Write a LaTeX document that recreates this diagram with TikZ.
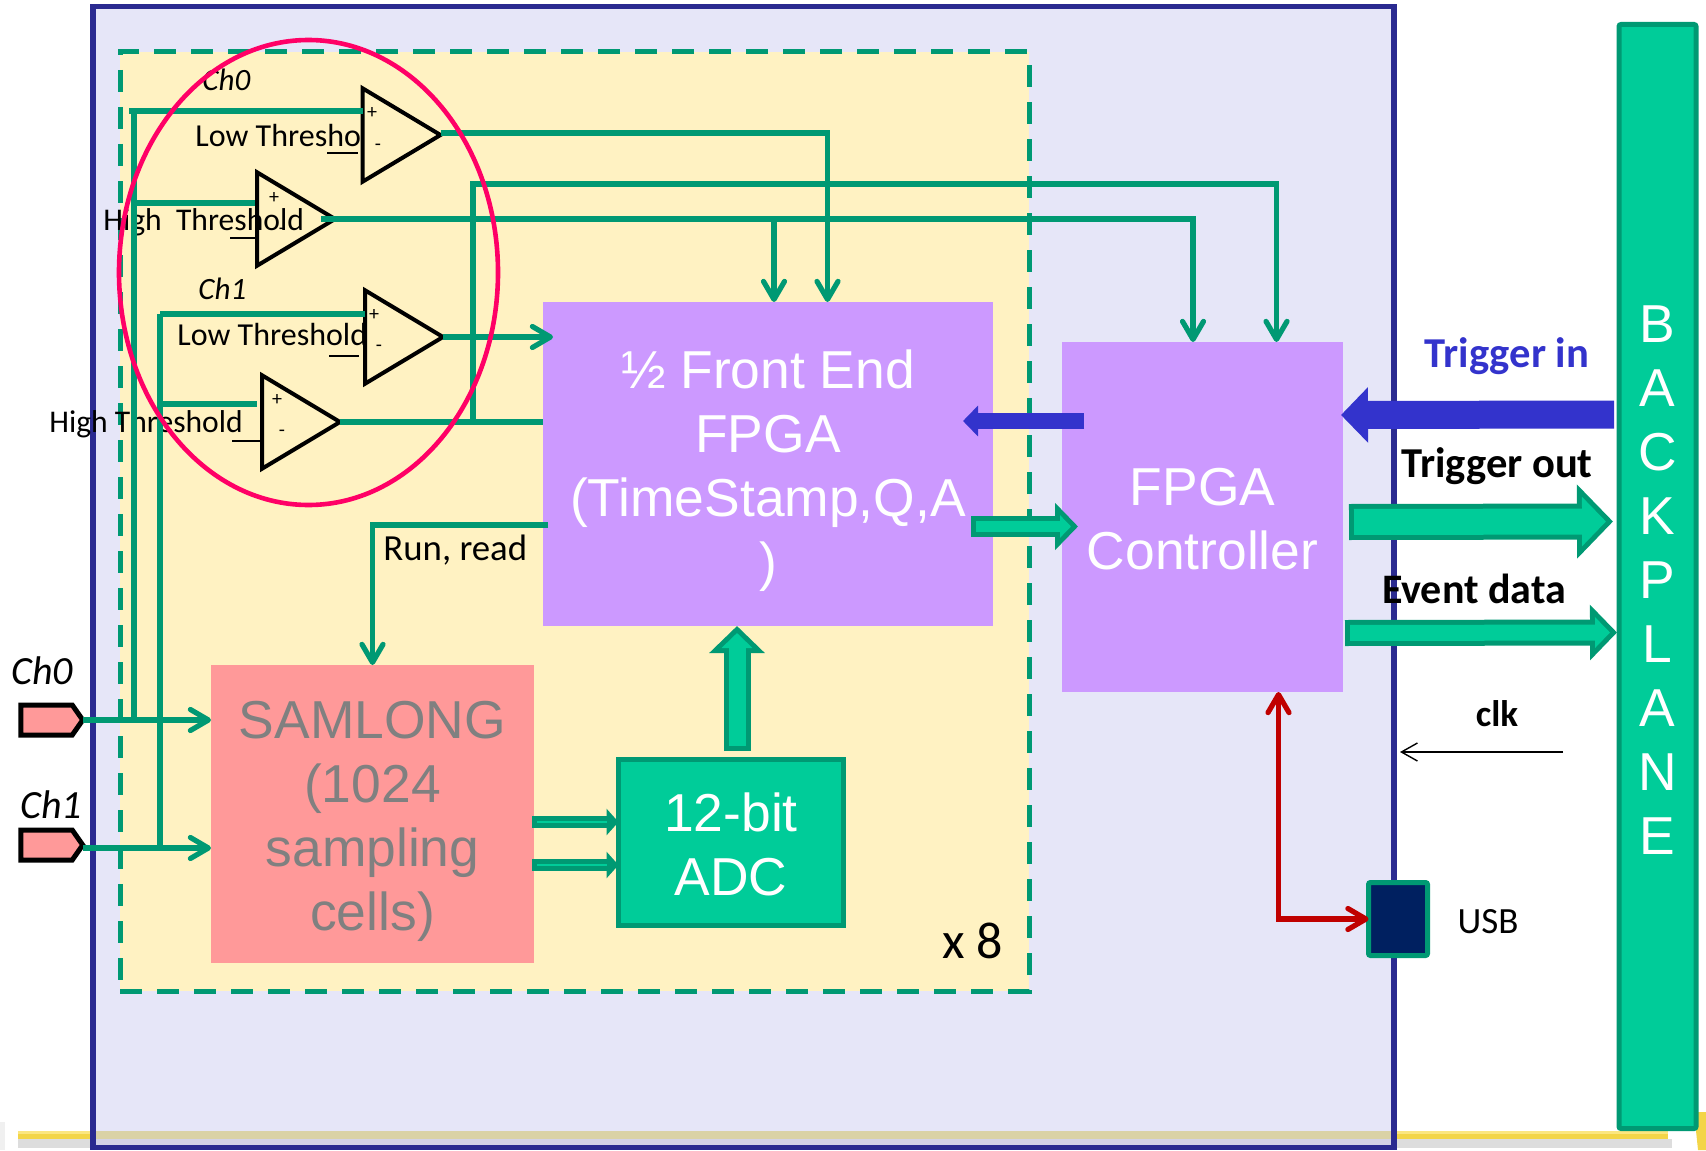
\documentclass[tikz,border=0pt]{standalone}
\usepackage{fontspec}
\setmainfont{Carlito}
\newfontfamily\arialfont{Liberation Sans}
\usetikzlibrary{arrows.meta,shapes.geometric,shapes.symbols}
\definecolor{boardfill}{HTML}{E6E6F8}
\definecolor{boardline}{HTML}{2A2A90}
\definecolor{mezzfill}{HTML}{FFF2C2}
\definecolor{fpgafill}{HTML}{CC99FF}
\definecolor{samfill}{HTML}{FF9999}
\definecolor{busfill}{HTML}{00CC99}
\definecolor{busedge}{HTML}{009973}
\definecolor{trigblue}{HTML}{3333CC}
\definecolor{usbred}{HTML}{C00000}
\definecolor{usbfill}{HTML}{002060}
\definecolor{ringpink}{HTML}{FF0066}
\definecolor{stripa}{HTML}{F3D548}
\definecolor{stripc}{HTML}{FBE680}
\definecolor{stripb}{HTML}{DAD2A6}
\definecolor{shadea}{HTML}{DDDDDD}
\definecolor{shadeb}{HTML}{D3D2E6}
\begin{document}
\begin{tikzpicture}[
  x=0.5pt, y=-0.5pt,
  box/.style={inner sep=0pt, outer sep=0pt, align=center, text=white,
              font=\arialfont\fontsize{26.7}{32}\selectfont},
  greenbox/.style={box, draw=busedge, fill=busfill, line width=2.5pt},
  cmp/.style={isosceles triangle, isosceles triangle stretches, draw=black, fill=mezzfill,
              line width=2pt, inner sep=0pt, outer sep=0pt, anchor=apex,
              minimum width=46.75pt, minimum height=39pt},
  port/.style={signal, signal to=east, signal pointer angle=110, draw=black, fill=samfill,
               line width=2.5pt, inner sep=0pt, outer sep=0pt,
               minimum width=31pt, minimum height=15pt},
  lbl/.style={inner sep=0pt, anchor=base west, font=\fontsize{16}{19}\selectfont},
  sgn/.style={inner sep=0pt, font=\fontsize{10}{12}\selectfont},
  bigl/.style={inner sep=0pt, anchor=base, font=\bfseries\fontsize{21.3}{25}\selectfont},
  sig/.style={draw=busedge, line width=2.6pt},
  tick/.style={draw=black, line width=1pt},
  >={Straight Barb[length=9pt,width=10.5pt,round]},
  bus/.style 2 args={line width=#1, draw=busedge, -{Triangle[length=#2,width=2*#2]},
                     postaction={draw=busfill, line width=#1-5pt,
                                 -{Triangle[length=#2-6pt,width=2*#2-12pt]},
                                 shorten >=3.5pt, shorten <=2.5pt}},
  thinbus/.style={line width=6pt, draw=busedge, -{Triangle[length=6pt,width=13pt]},
                  postaction={draw=busfill, line width=1.2pt, -,
                              shorten >=6pt, shorten <=2.5pt}},
  trig/.style 2 args={line width=#1, draw=trigblue, -{Triangle[length=#2,width=2*#2]}}
]
\useasboundingbox (0,0) rectangle (1706,1150);
\fill[black!6] (0,1122) rectangle (5,1150);
\fill[shadea] (18,1139) rectangle (1672,1148);
\fill[stripa] (18,1131) rectangle (1668,1139);
\fill[stripc] (18,1131) rectangle (1668,1134);
\fill[stripa] (1694,1112) -- (1706,1112) -- (1706,1150) -- (1698,1150) -- cycle;
\node[draw=boardline, fill=boardfill, line width=2.75pt, minimum width=650.5pt, minimum height=570.5pt] (board) at (743.5,577) {};
\fill[shadeb] (96,1139) rectangle (1391,1145);
\fill[stripb] (96,1131) rectangle (1391,1139);
\node[draw=busedge, fill=mezzfill, line width=2.5pt, dash pattern=on 11pt off 7.5pt, minimum width=454.5pt, minimum height=469.5pt] (mezz) at (574.5,521.5) {};

\node[box, fill=fpgafill, minimum width=225pt, minimum height=162pt] (fe) at (768,464) {\rule{0pt}{26pt}½ Front End\\FPGA\\(TimeStamp,Q,A\\)};
\node[box, fill=fpgafill, minimum width=140.5pt, minimum height=175pt] (ctrl) at (1202.5,517) {\rule{0pt}{20.5pt}FPGA\\Controller};
\node[box, fill=samfill, text=black!50, minimum width=161.5pt, minimum height=149pt] (samlong) at (372.5,814) {\rule{0pt}{26pt}SAMLONG\\(1024\\sampling\\cells)};
\node[greenbox, minimum width=112.5pt, minimum height=83pt] (adc) at (731,842) {\rule{0pt}{21.5pt}12-bit\\ADC};
\node[greenbox, rounded corners=1pt, minimum width=38.5pt, minimum height=552pt] (backplane) at (1657.5,576.5) {\rule{0pt}{22pt}B\\A\\C\\K\\P\\L\\A\\N\\E};
\node[draw=busedge, fill=usbfill, line width=2.5pt, rounded corners=1pt, outer sep=0pt, minimum width=29.5pt, minimum height=36.5pt] (usb) at (1398,919) {};

\node[port] (portA) at (46.5,720) {};
\node[port] (portB) at (46.5,845) {};

\node[lbl] (lowA) at (195,147) {Low Thresho};
\node[lbl] (lowC) at (177,345) {Low Threshold};
\node[cmp] (cmpA) at (440.5,135) {};
\node[cmp] (cmpB) at (335,219) {};
\node[cmp] (cmpC) at (443,337) {};
\node[cmp] (cmpD) at (340,422) {};
\node[lbl, font=\fontsize{15.8}{19}\selectfont] (highB) at (103,231) {High\ \ Threshold};
\node[lbl, font=\fontsize{15.8}{19}\selectfont] (highD) at (49,432) {High Threshold};
\node[sgn] (plusA)  at (372,113) {+};
\node[sgn] (minusA) at (378,147) {-};
\node[sgn] (plusB)  at (274,198) {+};
\node[sgn] (minusB) at (282,231) {-};
\node[sgn] (plusC)  at (374,315) {+};
\node[sgn] (minusC) at (379,348) {-};
\node[sgn] (plusD)  at (277,400) {+};
\node[sgn] (minusD) at (282,433) {-};
\draw[tick] (327,153) -- ([xshift=-2.5pt,yshift=-9pt]cmpA.lower side);
\draw[tick] (230,238) -- ([yshift=-9.5pt]cmpB.lower side);
\draw[tick] (329,356) -- ([xshift=-3pt,yshift=-9.5pt]cmpC.lower side);
\draw[tick] (232,441) -- ([xshift=-1pt,yshift=-9.5pt]cmpD.lower side);

\coordinate (stubA) at (129,111);
\coordinate (busA) at (134,111);
\coordinate (busC) at (160,314);
\coordinate (tapB) at ([yshift=-1.5pt]portB.east);
\coordinate (outA) at ([yshift=1pt]cmpA.apex);
\coordinate (inB)  at ([xshift=-1pt,yshift=8pt]cmpB.lower side);
\coordinate (inD)  at ([xshift=-2.5pt,yshift=9pt]cmpD.lower side);
\coordinate (feA)  at ([xshift=29.75pt]fe.north);
\coordinate (feB)  at ([xshift=3pt]fe.north);
\coordinate (feC)  at (553,337);
\coordinate (ctlbus) at (473,184);
\coordinate (ctlB) at ([xshift=-4.75pt]ctrl.north);
\coordinate (ctlD) at ([xshift=37pt]ctrl.north);
\coordinate (clkout) at (1563,752);
\coordinate (clkin) at (1400,752);
\draw[sig] (stubA) -- (stubA -| cmpA.lower side);
\draw[sig] (busA) -- (busA |- portA);
\draw[sig] (busA |- inB) -- (inB);
\draw[sig] (busC) -- (busC -| cmpC.lower side);
\draw[sig] (busC) -- (busC |- tapB);
\draw[sig] (busC |- inD) -- (inD);
\draw[sig, ->] (portA.east) -- (portA -| samlong.west);
\draw[sig, ->] (tapB) -- (tapB -| samlong.west);
\draw[sig, ->] (outA) -| (feA);
\draw[sig, ->] ([xshift=-7pt]cmpB.apex) -| (ctlB);
\draw[sig, ->] (feB |- cmpB.apex) -- (feB);
\draw[sig, ->] (cmpC.apex) -- (feC);
\draw[sig] (cmpD.apex) -- (cmpD.apex -| fe.west);
\draw[sig, ->] (ctlbus |- cmpD.apex) -- (ctlbus) -| (ctlD);
\draw[sig, ->] ([xshift=2.5pt,yshift=-30.5pt]fe.west) -| (samlong.north);
\draw[draw=usbred, line width=2.6pt, <->] ([xshift=38pt]ctrl.south) |- (usb.west);
\draw[draw=black, line width=0.7pt, -{Straight Barb[length=8pt,width=9pt]}] (clkout) -- (clkin);

\draw[trig={8pt}{7.5pt}] ([shift={(11pt,48pt)}]ctrl.west) -- ([shift={(-15pt,21.5pt)}]fe.east);
\draw[trig={14pt}{13.5pt}] ([shift={(-2.5pt,81pt)}]backplane.west) -- ([shift={(-1pt,51pt)}]ctrl.east);
\draw[bus={10.5pt}{11.5pt}] ([shift={(-11pt,-31.25pt)}]fe.east) -- ([shift={(8pt,-4.75pt)}]ctrl.west);
\draw[bus={18pt}{18pt}] ([shift={(3pt,-2.5pt)}]ctrl.east) -- ([shift={(-3pt,27.5pt)}]backplane.west);
\draw[bus={13pt}{13.5pt}] ([shift={(1pt,-58pt)}]ctrl.east) -- ([shift={(-1pt,-28pt)}]backplane.west);
\draw[bus={13.5pt}{13.5pt}] ([shift={(3pt,4pt)}]adc.north) -- ([xshift=-15.5pt]fe.south);
\draw[thinbus] ([shift={(-1pt,-4pt)}]samlong.east) -- ([yshift=10pt]adc.west);
\draw[thinbus] ([shift={(-1pt,-25.5pt)}]samlong.east) -- ([yshift=-11.5pt]adc.west);

\node[lbl, font=\itshape\fontsize{15.5}{19}\selectfont] (chA) at (202,91) {Ch0};
\node[lbl, font=\itshape\fontsize{15.5}{19}\selectfont] (chC) at (198,299) {Ch1};
\draw[draw=ringpink, line width=2.3pt] (308.5,272.5) ellipse (189.5 and 232.5);

\node[lbl, font=\itshape\fontsize{20}{24}\selectfont] (extA) at (11,684) {Ch0};
\node[lbl, font=\itshape\fontsize{20}{24}\selectfont] (extB) at (20,818) {Ch1};
\node[lbl, font=\fontsize{18.4}{22}\selectfont] (runread) at (383,560) {Run, read};
\node[lbl, font=\fontsize{26}{30}\selectfont] (times) at (942,958) {x 8};
\node[bigl, text=trigblue] (trigin) at (1507,367) {Trigger in};
\node[bigl] (trigout) at (1497,477) {Trigger out};
\node[bigl, font=\bfseries\fontsize{21}{25}\selectfont] (evdata) at (1474,603) {Event data};
\node[bigl, font=\bfseries\fontsize{18.5}{22}\selectfont] (clk) at (1497,726) {clk};
\node[bigl, font=\fontsize{18.5}{21}\selectfont] (usblbl) at (1488,933) {USB};
\end{tikzpicture}
\end{document}
